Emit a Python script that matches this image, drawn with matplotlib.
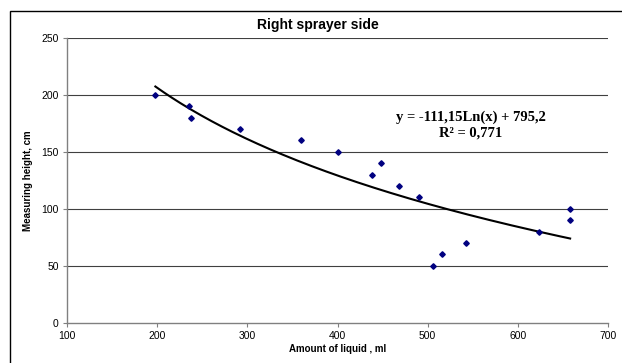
import numpy as np
import matplotlib
matplotlib.use("Agg")
import matplotlib.pyplot as plt
from matplotlib.patches import Rectangle

# Data
liquid_ml = [198, 235, 237, 292, 360, 400, 438, 448, 468, 490, 506, 516, 542, 624, 658, 658]
height_cm = [200, 190, 180, 170, 160, 150, 130, 140, 120, 110, 50, 60, 70, 80, 100, 90]

# Logarithmic trendline coefficients (as displayed)
coef_a = -111.15
coef_b = 795.2
r_squared = "0,771"

x_ticks = [100, 200, 300, 400, 500, 600, 700]
y_ticks = [0, 50, 100, 150, 200, 250]

plt.rcParams['font.family'] = ['Liberation Sans', 'DejaVu Sans']

fig = plt.figure(figsize=(6.22, 3.63), dpi=100)
ax = fig.add_axes([67/622, 1 - 322.7/363, (608-67)/622, (322.7-38)/363])

# outer chart border
fig.patches.append(Rectangle((10/622, -1), 3, 1 + (352.5/363), transform=fig.transFigure,
                             fill=False, edgecolor='black', linewidth=1.0))

ax.set_xlim(100, 700)
ax.set_ylim(0, 250)
ax.set_xticks(x_ticks)
ax.set_yticks(y_ticks)
ax.tick_params(labelsize=7.5, length=3, width=0.8, color='#808080', direction='out', pad=3)

for yv in y_ticks[1:]:
    ax.axhline(yv, color='#404040', linewidth=0.8, zorder=1)

for side in ['top', 'right']:
    ax.spines[side].set_visible(False)
for side in ['left', 'bottom']:
    ax.spines[side].set_color('#808080')
    ax.spines[side].set_linewidth(1.0)

xs = np.linspace(min(liquid_ml), max(liquid_ml), 200)
ax.plot(xs, coef_a * np.log(xs) + coef_b, color='black', linewidth=1.5, zorder=2)
ax.plot(liquid_ml, height_cm, linestyle='none', marker='D', markersize=2.8,
        color='#000080', zorder=3)

fig.text(318/622, 1 - 25/363, 'Right sprayer side', fontsize=10, fontweight='bold',
         ha='center', va='center')
ax.set_xlabel('Amount of liquid , ml', fontsize=7, fontweight='bold', labelpad=2)
ax.set_ylabel('Measuring height, cm', fontsize=7, fontweight='bold', labelpad=6)

eq = f"y = {coef_a:.2f}Ln(x) + {coef_b:.1f}".replace('.', ',')
ax.text(548, 180.5, eq, fontsize=10.5, fontweight='bold', family='Liberation Serif',
        ha='center', va='center')
ax.text(548, 167, "R\u00b2 = " + r_squared, fontsize=10.5, fontweight='bold',
        family='Liberation Serif', ha='center', va='center')

fig.savefig('out.png', dpi=100)
